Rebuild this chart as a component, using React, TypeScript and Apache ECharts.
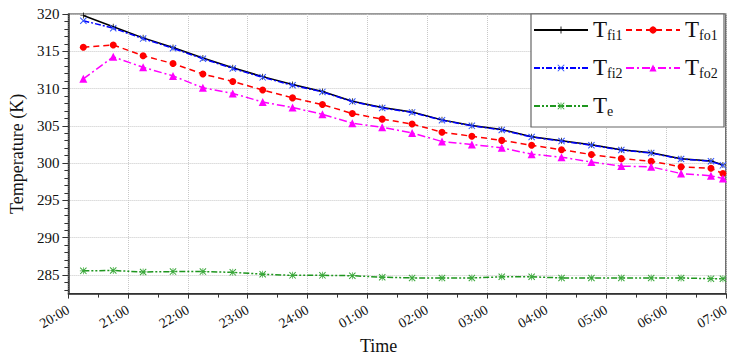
import React, { useEffect, useRef } from 'react';
import * as echarts from 'echarts';

// ---- data ----
const tickLabels = ['20:00', '21:00', '22:00', '23:00', '24:00', '01:00', '02:00', '03:00', '04:00', '05:00', '06:00', '07:00'];
// sample times in minutes after 20:00
const minutes = [15, 45, 75, 105, 135, 165, 195, 225, 255, 285, 315, 345, 375, 405, 435, 465, 495, 525, 555, 585, 615, 645, 657];
const tfi1 = [319.8, 318.3, 316.8, 315.5, 314.1, 312.8, 311.6, 310.55, 309.6, 308.3, 307.45, 306.85, 305.8, 305.05, 304.5, 303.55, 303.0, 302.45, 301.8, 301.4, 300.6, 300.3, 299.75];
const tfi2 = [319.1, 318.1, 316.7, 315.4, 314.0, 312.7, 311.5, 310.45, 309.55, 308.25, 307.4, 306.8, 305.75, 305.0, 304.45, 303.5, 302.95, 302.4, 301.75, 301.35, 300.55, 300.25, 299.7];
const tfo1 = [315.55, 315.85, 314.4, 313.35, 311.95, 310.95, 309.8, 308.75, 307.85, 306.65, 305.9, 305.25, 304.15, 303.6, 303.05, 302.4, 301.8, 301.15, 300.6, 300.25, 299.5, 299.3, 298.6];
const tfo2 = [311.3, 314.25, 312.85, 311.7, 310.1, 309.35, 308.2, 307.45, 306.55, 305.35, 304.8, 304.05, 302.9, 302.5, 302.05, 301.2, 300.8, 300.15, 299.6, 299.5, 298.6, 298.3, 297.95];
const te = [285.55, 285.6, 285.4, 285.45, 285.45, 285.35, 285.1, 284.95, 284.95, 284.9, 284.7, 284.6, 284.6, 284.6, 284.75, 284.75, 284.6, 284.6, 284.6, 284.6, 284.6, 284.5, 284.5];
const yMajor = [285, 290, 295, 300, 305, 310, 315, 320];
const yMinor = [283, 284, 286, 287, 288, 289, 291, 292, 293, 294, 296, 297, 298, 299, 301, 302, 303, 304, 306, 307, 308, 309, 311, 312, 313, 314, 316, 317, 318, 319];

const FONT = "'Liberation Serif', 'Times New Roman', serif";

const plusPath = 'path://M4.4,0h1.2v4.4h4.4v1.2h-4.4v4.4h-1.2v-4.4h-4.4v-1.2h4.4z';
const xPath = 'path://M0,1L1,0L10,9L9,10Z M9,0L10,1L1,10L0,9Z';
const starPath = 'path://M0,1L1,0L10,9L9,10Z M9,0L10,1L1,10L0,9Z M4.5,0L5.5,0L5.5,10L4.5,10Z M0,4.5L10,4.5L10,5.5L0,5.5Z';

function pairs(vals: number[]) {
  return minutes.map((m, i) => [m, vals[i]]);
}

export default function App() {
  const ref = useRef<HTMLDivElement>(null);
  useEffect(() => {
    if (!ref.current) return;
    const chart = echarts.init(ref.current, null, { renderer: 'svg' });
    const legendCommon: any = {
      orient: 'vertical',
      itemWidth: 54,
      itemHeight: 9,
      itemGap: 7,
      padding: 0,
      z: 20,
      selectedMode: false,
      formatter: (n: string) => `{b|${n[0]}}{s|${n.slice(1)}}`,
      textStyle: {
        fontFamily: FONT,
        color: '#111',
        rich: {
          b: { fontFamily: FONT, fontSize: 23, lineHeight: 24, verticalAlign: 'top', color: '#111' },
          s: { fontFamily: FONT, fontSize: 14, lineHeight: 14, padding: [17, 0, 0, 0], verticalAlign: 'bottom', color: '#111' },
        },
      },
    };
    const axisColor = '#333';
    chart.setOption({
      animation: false,
      grid: { left: 66, right: 5, top: 14, bottom: 58, show: true, borderColor: axisColor, borderWidth: 1.2, backgroundColor: '#fff' },
      graphic: [
        {
          type: 'rect',
          z: 10,
          shape: { x: 531, y: 14, width: 193, height: 113 },
          style: { fill: '#fff', stroke: '#666', lineWidth: 1.2 },
        },
      ],
      legend: [
        { ...legendCommon, left: 533, top: 11, data: ['Tfi1', 'Tfi2', 'Te'] },
        { ...legendCommon, left: 625, top: 11, data: ['Tfo1', 'Tfo2'] },
      ],
      xAxis: {
        type: 'value',
        min: 0,
        max: 660,
        interval: 60,
        name: 'Time',
        nameLocation: 'middle',
        nameGap: 39,
        nameTextStyle: { fontFamily: FONT, fontSize: 18, color: '#111', padding: [0, 37, 0, 0] },
        axisLine: { show: true, onZero: false, lineStyle: { color: axisColor, width: 1.5 } },
        axisTick: { show: true, length: 5, lineStyle: { color: axisColor } },
        minorTick: { show: true, splitNumber: 2, length: 4, lineStyle: { color: axisColor } },
        axisLabel: {
          rotate: 30,
          margin: 15,
          fontFamily: FONT,
          fontSize: 14,
          color: '#111',
          formatter: (v: number) => tickLabels[Math.round(v / 60)],
        },
        splitLine: { show: true, lineStyle: { color: '#c8c8c8', type: 'dotted' } },
      },
      yAxis: [
        {
          type: 'value',
          min: 282.5,
          max: 320,
          position: 'left',
          name: 'Temperature (K)',
          nameLocation: 'middle',
          nameGap: 33,
          nameTextStyle: { fontFamily: FONT, fontSize: 18, color: '#111' },
          axisLine: { show: true, lineStyle: { color: axisColor, width: 1.5 } },
          axisTick: { show: true, customValues: yMajor, length: 6, lineStyle: { color: axisColor } },
          axisLabel: { customValues: yMajor, margin: 9, fontFamily: FONT, fontSize: 15, color: '#111' },
          splitLine: { show: true, lineStyle: { color: '#c8c8c8', type: 'dotted' } },
        },
        {
          type: 'value',
          min: 282.5,
          max: 320,
          position: 'left',
          axisLine: { show: false },
          axisTick: { show: true, customValues: yMinor, length: 4, lineStyle: { color: axisColor } },
          axisLabel: { show: false },
          splitLine: { show: false },
        },
      ],
      series: [
        {
          name: 'Tfi1', type: 'line', data: pairs(tfi1), z: 3,
          symbol: plusPath, symbolSize: 6,
          lineStyle: { color: '#000', width: 1.5 }, itemStyle: { color: '#000' },
        },
        {
          name: 'Tfi2', type: 'line', data: pairs(tfi2), z: 4,
          symbol: xPath, symbolSize: 7,
          lineStyle: { color: '#0000ff', width: 1.5, type: [6, 2, 2, 2] }, itemStyle: { color: '#3355ff' },
        },
        {
          name: 'Tfo1', type: 'line', data: pairs(tfo1), z: 3,
          symbol: 'circle', symbolSize: 7,
          lineStyle: { color: '#ff0000', width: 1.5, type: [6, 4] }, itemStyle: { color: '#ff0000' },
        },
        {
          name: 'Tfo2', type: 'line', data: pairs(tfo2), z: 3,
          symbol: 'triangle', symbolSize: 8,
          lineStyle: { color: '#ff00ff', width: 1.5, type: [8, 3, 2, 3] }, itemStyle: { color: '#ff00ff' },
        },
        {
          name: 'Te', type: 'line', data: pairs(te), z: 3,
          symbol: starPath, symbolSize: 7,
          lineStyle: { color: '#1e961e', width: 1.5, type: [6, 2, 2, 2, 2, 2] }, itemStyle: { color: '#3aa83a' },
        },
      ],
    });
    return () => chart.dispose();
  }, []);
  return <div ref={ref} style={{ position: 'fixed', left: 0, top: 0, width: 732, height: 360, background: '#fff' }} />;
}
